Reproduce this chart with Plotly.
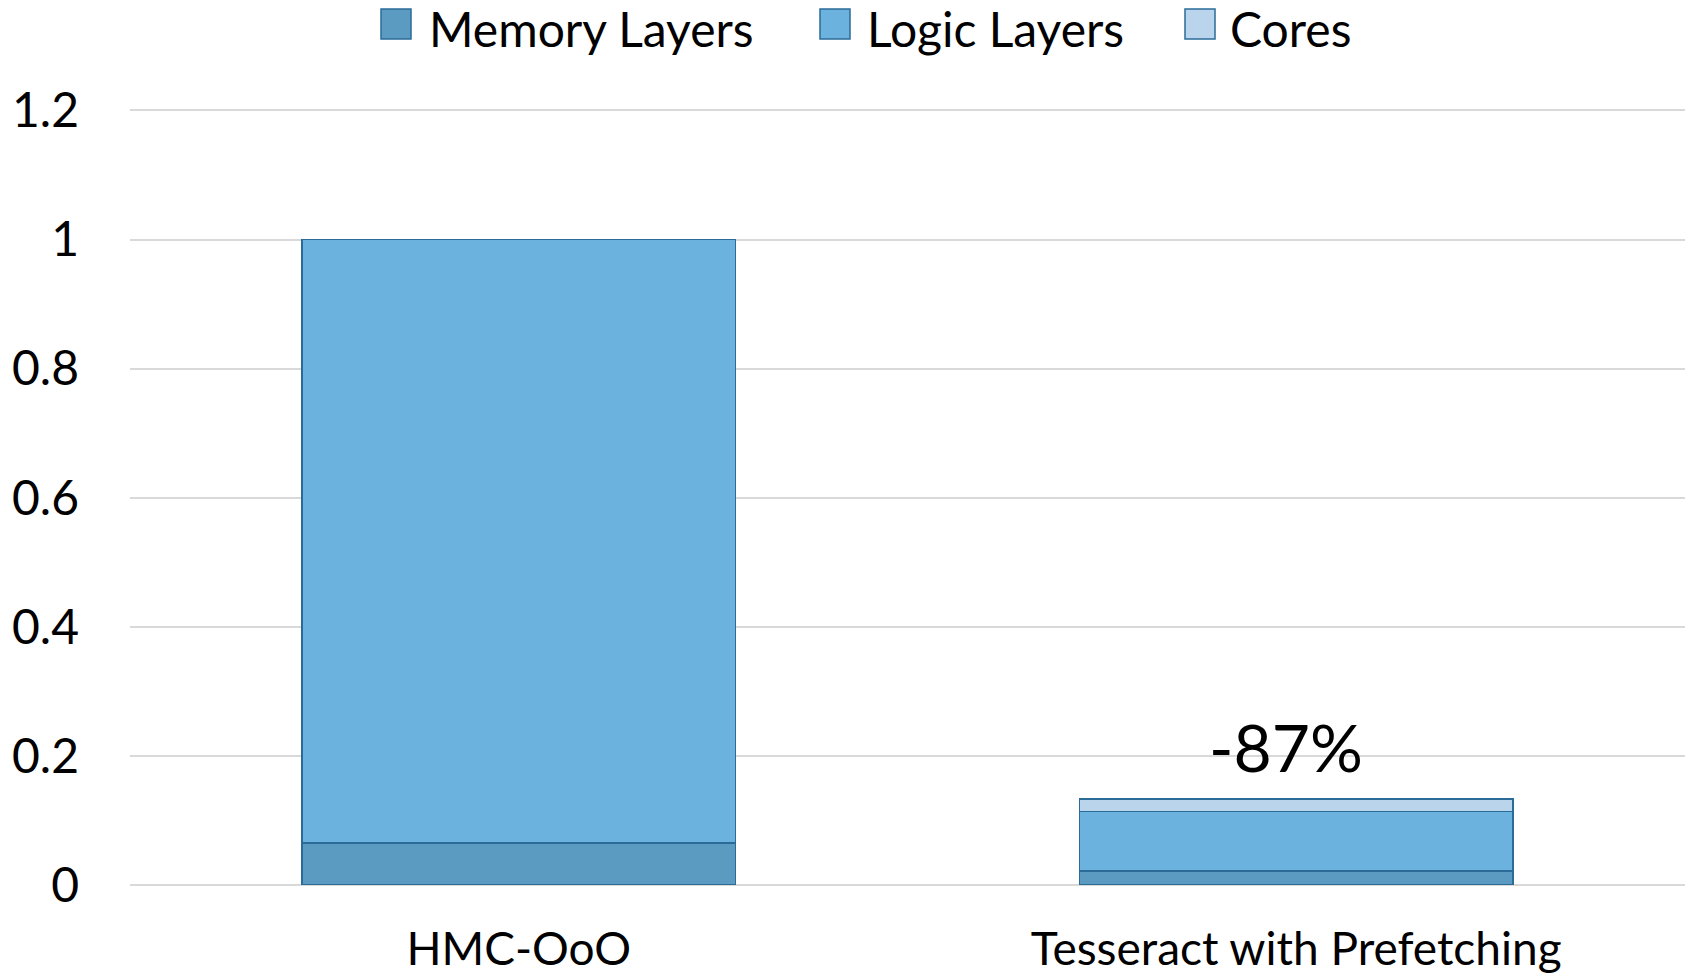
import plotly.graph_objects as go

categories = ["HMC-OoO", "Tesseract with Prefetching"]
memory_layers = [0.065, 0.022]
logic_layers = [0.935, 0.092]
cores = [0.0, 0.019]
series_names = ["Memory Layers", "Logic Layers", "Cores"]
annotation_text = "-87%"
annotation_y = 0.215
y_ticks = [0, 0.2, 0.4, 0.6, 0.8, 1.0, 1.2]
y_tick_labels = ["0", "0.2", "0.4", "0.6", "0.8", "1", "1.2"]

colors = ["#5B9BC2", "#6CB2DF", "#BAD4EC"]
outline = "#2B6B98"
FONT = "Lato"

W, H = 1694, 980
L, R, T, B = 130, 9, 104, 95
PW, PH = W - L - R, H - T - B


def px_x(p):
    # screen pixel -> paper x
    return (p - L) / PW


def px_y(p):
    # screen pixel -> paper y
    return (H - B - p) / PH


fig = go.Figure()
for name, vals, col in zip(series_names, [memory_layers, logic_layers, cores], colors):
    fig.add_trace(go.Bar(
        x=categories, y=vals, name=name, width=0.558, showlegend=False,
        marker=dict(color=col, line=dict(color=outline, width=1.5)),
    ))

fig.add_annotation(
    x=categories[1], y=annotation_y, xref="x", yref="y",
    text=annotation_text, showarrow=False, xshift=-10,
    font=dict(family=FONT, size=66, color="#000000"),
    yanchor="middle",
)

# custom legend (swatches + labels), positioned in screen pixels
legend_swatch_left = [381, 820, 1185]
legend_text_left = [427, 865, 1228]
sw_top, sw_bot, text_mid = 9, 39, 28
for name, col, sx, tx in zip(series_names, colors, legend_swatch_left, legend_text_left):
    fig.add_shape(
        type="rect", xref="paper", yref="paper",
        x0=px_x(sx), x1=px_x(sx + 30), y0=px_y(sw_bot), y1=px_y(sw_top),
        fillcolor=col, line=dict(color=outline, width=1.5),
    )
    fig.add_annotation(
        x=px_x(tx), y=px_y(text_mid), xref="paper", yref="paper",
        text=name, showarrow=False, xanchor="left", yanchor="middle",
        font=dict(family=FONT, size=48, color="#000000"),
    )

fig.update_layout(
    barmode="stack",
    width=W, height=H,
    margin=dict(l=L, r=R, t=T, b=B, autoexpand=False),
    paper_bgcolor="white", plot_bgcolor="white",
    font=dict(family=FONT, size=48, color="#000000"),
    showlegend=False,
)
fig.update_xaxes(
    showgrid=False, showline=False, ticks="outside", ticklen=24,
    tickcolor="rgba(0,0,0,0)", tickfont=dict(family=FONT, size=46),
)
fig.update_yaxes(
    range=[0, 1.21], tickvals=y_ticks, ticktext=y_tick_labels,
    showgrid=True, gridcolor="#D9D9D9", gridwidth=1.5,
    zeroline=True, zerolinecolor="#D9D9D9", zerolinewidth=1.5,
    showline=False, ticklabelstandoff=50,
    tickfont=dict(family=FONT, size=48),
)

fig.write_html(
    "out.html",
    config={"displayModeBar": False},
    post_script="document.body.style.margin='0';",
)
